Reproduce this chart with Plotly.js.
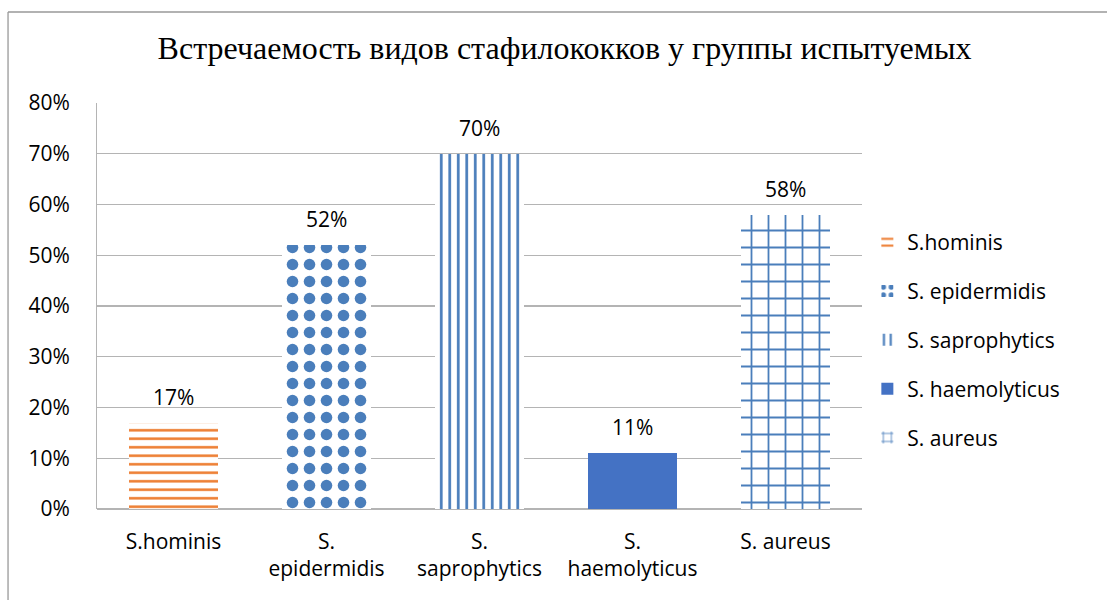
<!DOCTYPE html>
<html>
<head>
<meta charset="utf-8">
<script src="https://cdn.plot.ly/plotly-3.0.1.min.js"></script>
<style>html,body{margin:0;padding:0;background:#fff;}#chart{width:1107px;height:600px;}</style>
</head>
<body>
<div id="chart"></div>
<script>
var categories = ['S.hominis', 'S. epidermidis', 'S. saprophytics', 'S. haemolyticus', 'S. aureus'];
var tickLabels = ['S.hominis', 'S.<br>epidermidis', 'S.<br>saprophytics', 'S.<br>haemolyticus', 'S. aureus'];
var values = [0.17, 0.52, 0.70, 0.11, 0.58];
var valueLabels = ['17%', '52%', '70%', '11%', '58%'];
var titleText = 'Встречаемость видов стафилококков у группы испытуемых';

var sansFont = '"Open Sans", "Liberation Sans", sans-serif';
var blue = '#4a7ebb';

var styles = [
  {fg: '#ED7D31', shape: '-', size: 8.5, solidity: 0.3, color: '#ffffff'},
  {fg: blue, shape: '.', size: 17, solidity: 0.36, color: '#ffffff'},
  {fg: blue, shape: '|', size: 8.5, solidity: 0.32, color: '#ffffff'},
  {fg: null, shape: '', size: 8, solidity: 0.3, color: '#4472C4'},
  {fg: blue, shape: '+', size: 17, solidity: 0.2, color: '#ffffff'}
];

var traces = categories.map(function (c, i) {
  var s = styles[i];
  var marker = {color: s.color, line: {width: 0}};
  if (s.shape) {
    marker.pattern = {shape: s.shape, fgcolor: s.fg, bgcolor: '#ffffff', size: s.size, solidity: s.solidity, fillmode: 'replace'};
  }
  return {
    type: 'bar',
    name: c,
    x: [tickLabels[i]],
    y: [values[i]],
    width: 0.58,
    marker: marker,
    legendgroup: 'g' + i,
    hoverinfo: 'skip'
  };
});

var annotations = categories.map(function (c, i) {
  return {
    x: tickLabels[i], y: values[i], xref: 'x', yref: 'y',
    text: valueLabels[i], showarrow: false, yanchor: 'middle', yshift: 26,
    font: {family: sansFont, size: 21, color: '#000'}
  };
});

var layout = {
  width: 1107, height: 600,
  margin: {l: 97, r: 245, t: 103, b: 91},
  paper_bgcolor: '#fff', plot_bgcolor: '#fff',
  title: {text: titleText, font: {family: '"Liberation Serif", "Times New Roman", serif', size: 32, color: '#000'},
          xref: 'container', x: 0.51, xanchor: 'center', yref: 'container', y: 1 - 48/600, yanchor: 'middle'},
  barmode: 'overlay',
  bargap: 0,
  showlegend: true,
  legend: {x: 1.007, xanchor: 'left', y: 0.416, yanchor: 'middle', traceorder: 'grouped', tracegroupgap: 18.5,
           font: {family: sansFont, size: 21, color: '#000'}, bgcolor: 'rgba(0,0,0,0)'},
  xaxis: {type: 'category', categoryorder: 'array', categoryarray: tickLabels,
          tickfont: {family: sansFont, size: 21, color: '#000'}, showgrid: false, zeroline: false,
          showline: false, ticks: '', ticklabelstandoff: 18, fixedrange: true},
  yaxis: {range: [0, 0.8], dtick: 0.1, tickformat: '.0%', showgrid: true, gridcolor: '#b4b4b4', gridwidth: 1.3,
          zeroline: true, zerolinecolor: '#b4b4b4', zerolinewidth: 1.3, showline: true, linecolor: '#b4b4b4', linewidth: 1,
          ticks: '', ticklabelstandoff: 22, tickfont: {family: sansFont, size: 21, color: '#000'}, fixedrange: true},
  annotations: annotations,
  shapes: [
    {type: 'line', xref: 'paper', yref: 'paper', x0: -0.1163, x1: -0.1163, y0: -0.3, y1: 1.2241, line: {color: '#999', width: 1.3}},
    {type: 'line', xref: 'paper', yref: 'paper', x0: -0.1163, x1: 1.5, y0: 1.2241, y1: 1.2241, line: {color: '#999', width: 1.3}}
  ]
};

Plotly.newPlot('chart', traces, layout, {displayModeBar: false, staticPlot: true});
</script>
</body>
</html>
